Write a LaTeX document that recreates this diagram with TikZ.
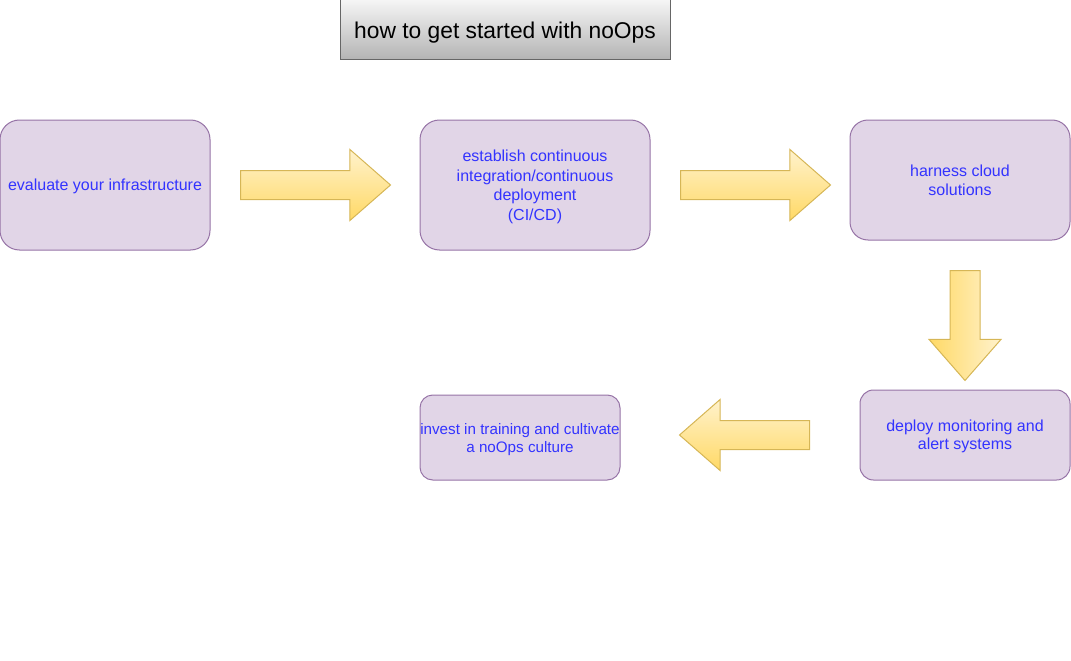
\documentclass[tikz,border=0pt]{standalone}
\usepackage{fontspec}
\setmainfont{Liberation Sans}
\usetikzlibrary{shapes.arrows}
\definecolor{stepfill}{HTML}{E1D5E7}
\definecolor{stepline}{HTML}{9673A6}
\definecolor{steptext}{HTML}{3333FF}
\definecolor{arrowlight}{HTML}{FFF2CC}
\definecolor{arrowdark}{HTML}{FFD966}
\definecolor{arrowline}{HTML}{D6B656}
\definecolor{titlelight}{HTML}{F5F5F5}
\definecolor{titledark}{HTML}{B3B3B3}
\definecolor{titleline}{HTML}{666666}

\begin{document}
\begin{tikzpicture}[x=1pt, y=-1pt,
        stepbox/.style={draw=stepline, fill=stepfill, text=steptext, align=center, inner sep=0pt, line width=1pt,
                text depth=0pt, font=\fontsize{16}{19.5}\selectfont},
        blockarrow/.style={single arrow, draw=arrowline, line width=1pt, inner xsep=0pt, inner ysep=14pt,
                single arrow head extend=21pt, single arrow tip angle=82.4, single arrow head indent=0pt,
                anchor=tail}]
            \useasboundingbox (0, 0) rectangle (1071, 661);

            % title box on top
            \node[draw=titleline, line width=1pt, top color=titlelight, bottom color=titledark,
                minimum width=330pt, minimum height=60pt, inner sep=0pt, text depth=0pt,
                font=\fontsize{22.8}{27}\selectfont] (title) at (505, 30) {how to get started with noOps};

            % create the steps
            \node[stepbox, rounded corners=19.5pt, minimum width=210pt, minimum height=130pt] (evaluate) at (105, 185)
                {evaluate your infrastructure};
            \node[stepbox, rounded corners=19.5pt, minimum width=230pt, minimum height=130pt] (cicd) at (535, 185)
                {establish continuous\\integration/continuous\\deployment\\(CI/CD)};
            \node[stepbox, rounded corners=18pt, minimum width=220pt, minimum height=120pt] (cloud) at (960, 180)
                {harness cloud\\solutions};
            \node[stepbox, rounded corners=13.5pt, minimum width=210pt, minimum height=90pt,
                font=\fontsize{16}{18}\selectfont] (monitor) at (965, 435)
                {deploy monitoring and\\alert systems};
            \node[stepbox, rounded corners=12.75pt, minimum width=200pt, minimum height=85pt,
                font=\fontsize{15.2}{18}\selectfont] (culture) at (520, 437.5)
                {invest in training and cultivate\\a noOps culture};

            % block arrows between the steps
            \node[blockarrow, minimum height=150pt, top color=arrowlight, bottom color=arrowdark] (a1) at (240, 185) {};
            \node[blockarrow, minimum height=150pt, top color=arrowlight, bottom color=arrowdark] (a2) at (680, 185) {};
            \node[blockarrow, minimum height=110pt, shape border rotate=270, inner xsep=14.5pt, inner ysep=0pt,
                left color=arrowdark, right color=arrowlight] (a3) at (965, 270) {};
            \node[blockarrow, minimum height=130pt, shape border rotate=180, top color=arrowlight, bottom color=arrowdark] (a4) at (810, 435) {};

        \end{tikzpicture}
\end{document}
